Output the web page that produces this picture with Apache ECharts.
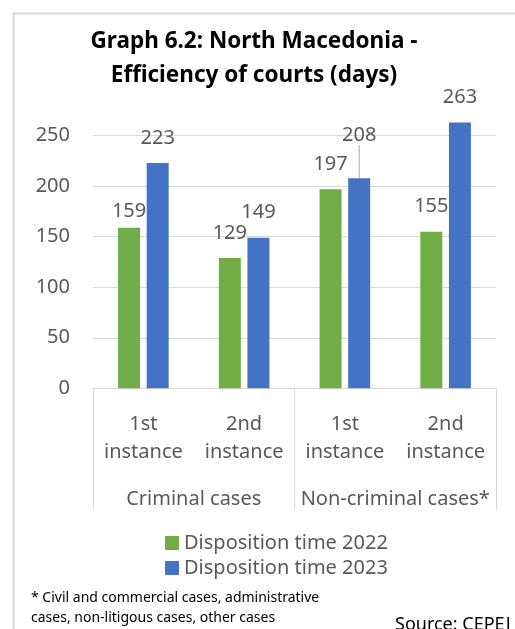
<!DOCTYPE html>
<html>
<head>
<meta charset="utf-8">
<script src="https://cdn.jsdelivr.net/npm/echarts@6/dist/echarts.min.js"></script>
<style>
  html, body { margin: 0; padding: 0; background: #fff; }
  #chart-wrapper { width: 515px; height: 629px; }
</style>
</head>
<body>
<div id="chart-wrapper"></div>
<script>
// data
const categories = ["1st\ninstance", "2nd\ninstance", "1st\ninstance", "2nd\ninstance"];
const groups = ["Criminal cases", "Non-criminal cases*"];
const time2022 = [159, 129, 197, 155];
const time2023 = [223, 149, 208, 263];
const seriesNames = ["Disposition time 2022", "Disposition time 2023"];

const font = "Noto Sans";
const textColor = "#595959";
const lineColor = "#d9d9d9";

const chartDom = document.getElementById("chart-wrapper");
const chart = echarts.init(chartDom, null, { renderer: "canvas" });

const barLabel = {
  show: true,
  position: "top",
  distance: 15,
  fontFamily: font,
  fontSize: 20,
  color: textColor,
};

const option = {
  backgroundColor: "#fff",
  animation: false,
  textStyle: { fontFamily: font },
  title: [
    {
      text: "Graph 6.2: North Macedonia -\nEfficiency of courts (days)",
      left: 249,
      top: 20,
      textAlign: "center",
      textStyle: {
        fontFamily: font,
        fontWeight: "bold",
        fontSize: 22.5,
        lineHeight: 34,
        color: "#000",
      },
    },
    {
      text: "* Civil and commercial cases, administrative\ncases, non-litigous cases, other cases",
      left: 31,
      top: 588,
      padding: 0,
      textStyle: {
        fontFamily: font,
        fontWeight: "normal",
        fontSize: 14,
        lineHeight: 20,
        color: "#000",
      },
    },
    {
      text: "Source: CEPEJ",
      left: 395,
      top: 616,
      padding: 0,
      textStyle: {
        fontFamily: font,
        fontWeight: "normal",
        fontSize: 18,
        color: "#000",
      },
    },
  ],
  graphic: [
    {
      type: "rect",
      left: 11,
      top: 11,
      shape: { width: 540, height: 660 },
      style: { fill: "none", stroke: lineColor, lineWidth: 2 },
      silent: true,
      z: -1,
    },
  ],
  legend: {
    orient: "vertical",
    left: 160,
    top: 528,
    itemWidth: 14,
    itemHeight: 14,
    itemGap: 5,
    icon: "rect",
    data: seriesNames,
    textStyle: { fontFamily: font, fontSize: 20, lineHeight: 20, color: textColor },
  },
  grid: {
    left: 93,
    right: 19,
    top: 115.5,
    bottom: 240.7,
    containLabel: false,
  },
  xAxis: [
    {
      type: "category",
      data: categories,
      position: "bottom",
      axisLine: { show: true, lineStyle: { color: lineColor, width: 1 } },
      axisTick: { show: false },
      axisLabel: {
        interval: 0,
        margin: 22,
        fontFamily: font,
        fontSize: 20,
        lineHeight: 28,
        color: textColor,
      },
    },
    {
      type: "category",
      data: groups,
      position: "bottom",
      axisLine: { show: false },
      axisTick: { show: true, length: 122, lineStyle: { color: lineColor, width: 1 } },
      axisLabel: {
        interval: 0,
        margin: 97,
        fontFamily: font,
        fontSize: 20,
        lineHeight: 28,
        color: textColor,
      },
    },
  ],
  yAxis: {
    type: "value",
    min: 0,
    max: 270,
    interval: 50,
    axisLine: { show: false },
    axisTick: { show: false },
    axisLabel: {
      margin: 23,
      showMaxLabel: false,
      fontFamily: font,
      fontSize: 20,
      color: textColor,
    },
    splitLine: { show: true, showMaxLine: false, lineStyle: { color: lineColor, width: 1 } },
  },
  series: [
    {
      name: seriesNames[0],
      type: "bar",
      data: time2022.map((v, i) =>
        i === 0 ? { value: v, label: { distance: 6 } } : v
      ),
      barWidth: 22,
      barGap: "30%",
      clip: false,
      itemStyle: { color: "#70AD47" },
      label: barLabel,
    },
    {
      name: seriesNames[1],
      type: "bar",
      data: time2023.map((v, i) =>
        i === 2
          ? { value: v, labelLine: { show: true, lineStyle: { color: "#a6a6a6", width: 1 } } }
          : v
      ),
      barWidth: 22,
      clip: false,
      itemStyle: { color: "#4472C4" },
      label: barLabel,
      labelLine: { show: false },
      labelLayout: function (params) {
        if (params.dataIndex === 2) {
          return { dy: -18 };
        }
        return {};
      },
    },
  ],
};

chart.setOption(option);
</script>
</body>
</html>
